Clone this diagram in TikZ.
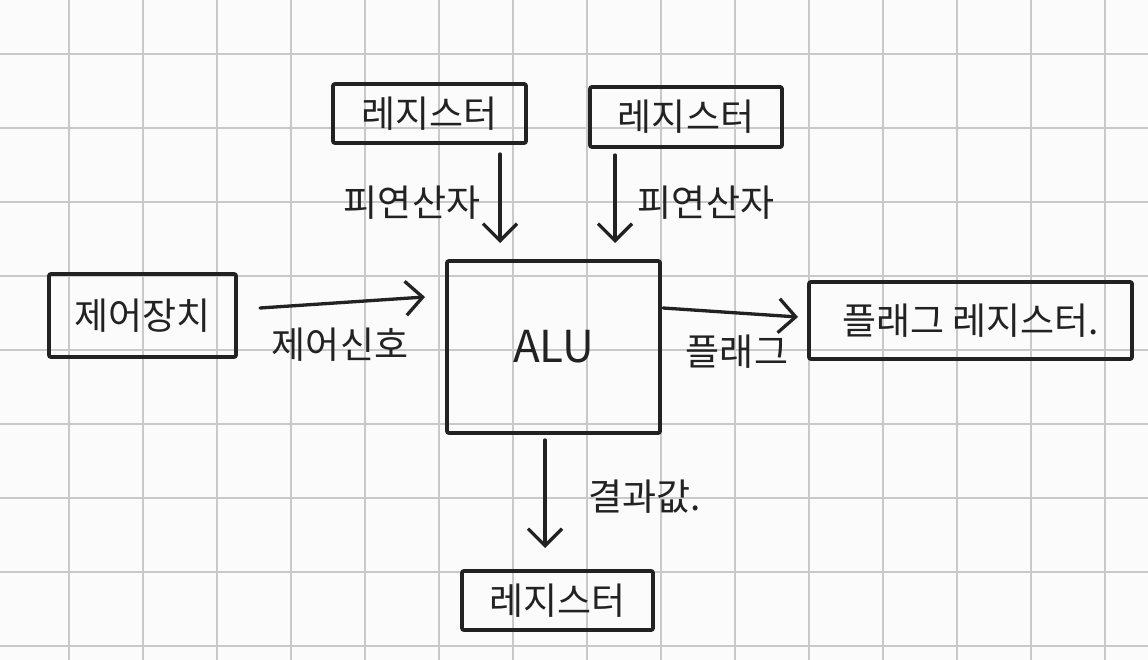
\documentclass[tikz,border=0pt]{standalone}
\usepackage{fontspec}
\newfontfamily\kr{Noto Sans CJK KR}
\usetikzlibrary{arrows.meta}
\definecolor{ink}{HTML}{222222}
\definecolor{gridc}{HTML}{C9C9C9}
\definecolor{bg}{HTML}{FBFBFB}
\begin{document}
\begin{tikzpicture}[x=1pt,y=-1pt,
  box/.style={draw=ink, line width=3.8pt, rounded corners=2pt, inner sep=0pt, text=ink, font=\kr\fontsize{37}{42}\selectfont},
  lbl/.style={font=\kr\fontsize{37}{42}\selectfont, text=ink, inner sep=0pt},
  arr/.style={draw=ink, line width=3.3pt, line cap=round, line join=round, -{Straight Barb[length=17pt,width=34pt]}}]
\useasboundingbox (0,0) rectangle (1148,660);
\fill[bg] (0,0) rectangle (1148,660);
\foreach \i in {0,...,14} \draw[gridc, line width=2pt] ({69+74*\i},0) -- ({69+74*\i},660);
\foreach \j in {0,...,8} \draw[gridc, line width=2pt] (0,{53.7+74*\j}) -- (1148,{53.7+74*\j});

\node[box, minimum width=193pt, minimum height=59pt] (reg1) at (429.5,113.5) {레지스터};
\node[box, minimum width=192pt, minimum height=60pt] (reg2) at (686,117) {레지스터};
\node[box, minimum width=187pt, minimum height=83pt] (ctrl) at (142.5,315.5) {제어장치};
\node[box, minimum width=213pt, minimum height=172pt, font=\kr\fontsize{44}{50}\selectfont] (alu) at (553.5,347) {ALU};
\node[box, minimum width=323pt, minimum height=77pt] (flagreg) at (970.5,320.5) {플래그 레지스터.};
\node[box, minimum width=191pt, minimum height=59pt] (reg3) at (557.5,600.5) {레지스터};

\node[lbl] (op1) at (412,203) {피연산자};
\node[lbl] (op2) at (706,203) {피연산자};
\node[lbl] (sig) at (340,345) {제어신호};
\node[lbl] (flg) at (737,352) {플래그};
\node[lbl] (res) at (645,497) {결과값.};

\coordinate (a1s) at (500,154); \coordinate (a1e) at (500,243);
\coordinate (a2s) at (615,155); \coordinate (a2e) at (615,243);
\coordinate (a3s) at (260,308); \coordinate (a3e) at (425,297);
\coordinate (a4s) at (663,308); \coordinate (a4e) at (798,317);
\coordinate (a5s) at (545,440); \coordinate (a5e) at (545,548);

\draw[arr] (a1s) -- (a1e);
\draw[arr] (a2s) -- (a2e);
\draw[arr] (a3s) -- (a3e);
\draw[arr] (a4s) -- (a4e);
\draw[arr] (a5s) -- (a5e);
\end{tikzpicture}
\end{document}
